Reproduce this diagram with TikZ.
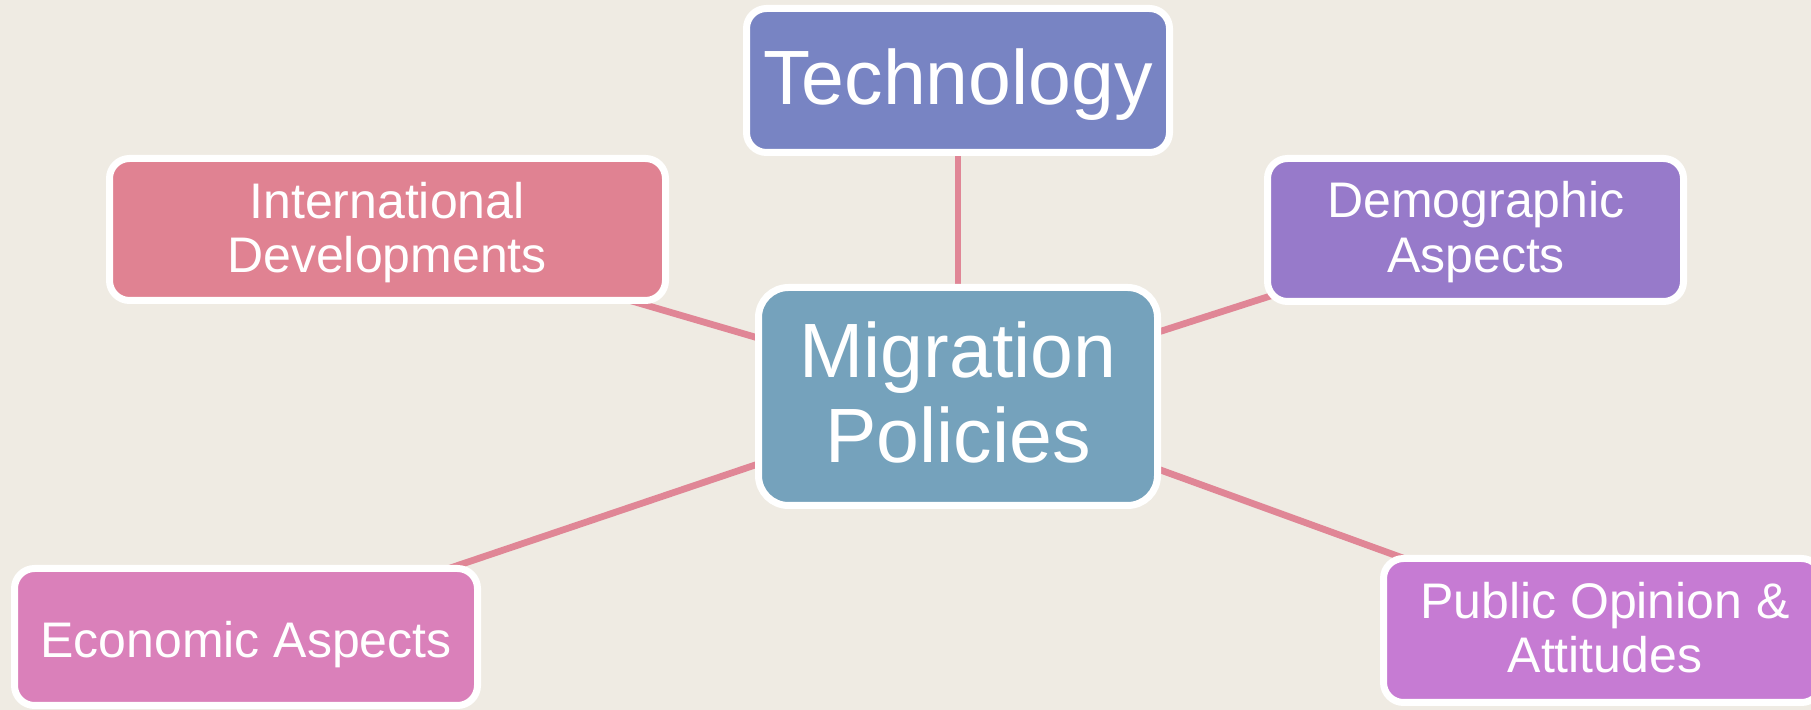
\documentclass[tikz,border=0pt]{standalone}
\usepackage{fontspec}
\setmainfont{Liberation Sans}
\usetikzlibrary{backgrounds}
\definecolor{bgc}{HTML}{EFEBE3}
\definecolor{techc}{HTML}{7884C3}
\definecolor{intlc}{HTML}{E08292}
\definecolor{democ}{HTML}{977ACA}
\definecolor{migc}{HTML}{75A2BC}
\definecolor{econc}{HTML}{DA80BA}
\definecolor{pubc}{HTML}{C67BD3}
\definecolor{linkc}{HTML}{E08696}
\tikzset{
  box/.style={draw=white, line width=2.8pt, rounded corners=8pt, inner sep=0pt, outer sep=0pt},
  lbl/.style={text=white, inner sep=0pt, outer sep=0pt, anchor=base},
  big/.style={font=\fontsize{30.8pt}{34pt}\selectfont},
  small/.style={font=\fontsize{20pt}{22pt}\selectfont},
  link/.style={draw=linkc, line width=2.7pt},
}
\begin{document}
\begin{tikzpicture}[x=0.4pt, y=-0.4pt]
\useasboundingbox (0,0) rectangle (1811,710);
% boxes
\node[box, fill=techc, minimum width={423*0.4pt}, minimum height={144*0.4pt}] (tech) at (958,80.5) {};
\node[box, fill=intlc, minimum width={556*0.4pt}, minimum height={142*0.4pt}] (intl) at (387.5,229.5) {};
\node[box, fill=democ, minimum width={416*0.4pt}, minimum height={143*0.4pt}] (demo) at (1475.5,230) {};
\node[box, fill=migc, rounded corners=12pt, minimum width={399*0.4pt}, minimum height={218*0.4pt}] (mig) at (958,396.5) {};
\node[box, fill=econc, minimum width={463*0.4pt}, minimum height={137*0.4pt}] (econ) at (246,637) {};
\node[box, fill=pubc, minimum width={438*0.4pt}, minimum height={144*0.4pt}] (pub) at (1602.5,630.5) {};
% texts
\node[lbl, big] (techt) at (958,105) {Technology};
\node[lbl, small] (intlt1) at (387,219) {International};
\node[lbl, small] (intlt2) at (387,273) {Developments};
\node[lbl, small] (demot1) at (1476,218) {Demographic};
\node[lbl, small] (demot2) at (1476,273) {Aspects};
\node[lbl, big] (migt1) at (958,378) {Migration};
\node[lbl, big] (migt2) at (958,463) {Policies};
\node[lbl, small] (econt) at (246,658) {Economic Aspects};
\node[lbl, small] (pubt1) at (1605,619) {Public Opinion \&};
\node[lbl, small] (pubt2) at (1605,673) {Attitudes};
% connectors and background
\begin{pgfonlayer}{background}
  \fill[bgc] (0,0) rectangle (1811,710);
  \draw[link] (tech.center) -- (mig.center);
  \draw[link] (intl.center) -- (mig.center);
  \draw[link] (demo.center) -- (mig.center);
  \draw[link] (econ.center) -- (mig.center);
  \draw[link] (pub.center) -- (mig.center);
\end{pgfonlayer}
\end{tikzpicture}
\end{document}
